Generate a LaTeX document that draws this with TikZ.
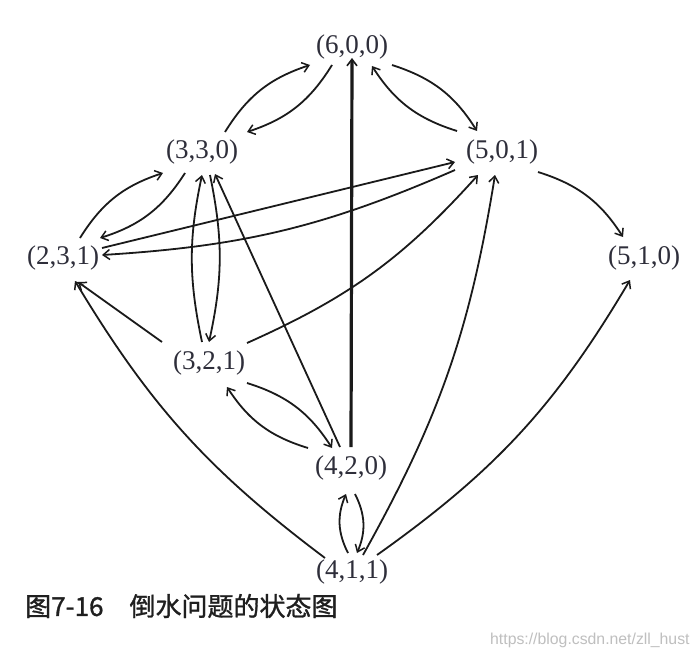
\documentclass[tikz,border=0pt]{standalone}
\usepackage{fontspec}
\setmainfont{Liberation Serif}
\newfontfamily\cjk{Noto Sans CJK SC}[FakeBold=1.2]
\newfontfamily\wmfont{Liberation Sans}
\usetikzlibrary{arrows.meta}
\definecolor{ink}{HTML}{1A1A1A}
\definecolor{txt}{HTML}{2E2E3A}
\begin{document}
\begin{tikzpicture}[x=1pt,y=1pt,
  state/.style={inner sep=0pt,font=\fontsize{27}{29}\selectfont,text=txt},
  edge/.style={draw=ink,line width=1.8pt,-{Straight Barb[length=6.5pt,width=10pt,line width=1.5pt]}},
  thick edge/.style={edge,line width=3.2pt,-{Straight Barb[length=6.5pt,width=10pt,line width=1.6pt]}}]
\useasboundingbox[fill=white] (0,0) rectangle (700,-658);
\node[state] (n600) at (352,-47) {(6,0,0)};
\node[state] (n330) at (202,-152) {(3,3,0)};
\node[state] (n501) at (502,-152) {(5,0,1)};
\node[state] (n231) at (63,-258) {(2,3,1)};
\node[state] (n510) at (644,-258) {(5,1,0)};
\node[state] (n321) at (209,-363) {(3,2,1)};
\node[state] (n420) at (351,-468) {(4,2,0)};
\node[state] (n411) at (352,-572) {(4,1,1)};
% top pair
\draw[edge] ([shift={(23,20)}]n330.center) to[bend left=20] ([shift={(-42,-18)}]n600.center);
\draw[edge] ([shift={(-20,-18)}]n600.center) to[bend left=20] ([shift={(45,20)}]n330.center);
\draw[edge] ([shift={(40,-18)}]n600.center) to[bend left=20] ([shift={(-25,21)}]n501.center);
\draw[edge] ([shift={(-45,21)}]n501.center) to[bend left=20] ([shift={(20,-19)}]n600.center);
\draw[thick edge] ([shift={(0,21)}]n420.center) -- ([shift={(0,-11)}]n600.center);
\draw[edge] ([shift={(36,-20)}]n501.center) to[bend left=20] ([shift={(-21,21)}]n510.center);
% left pair
\draw[edge] ([shift={(17,20)}]n231.center) to[bend left=20] ([shift={(-39,-21)}]n330.center);
\draw[edge] ([shift={(-17,-21)}]n330.center) to[bend left=20] ([shift={(37,20)}]n231.center);
% long ones
\draw[edge] ([shift={(39,10)}]n231.center) -- ([shift={(-47,-10)}]n501.center);
\draw[edge] ([shift={(-47,-18)}]n501.center) to[bend left=10] ([shift={(39,3)}]n231.center);
\draw[edge] ([shift={(38,20)}]n321.center) to[bend right=12] ([shift={(-24,-23)}]n501.center);
\draw[edge] ([shift={(11,17)}]n411.center) to[bend right=10] ([shift={(-7,-23)}]n501.center);
\draw[edge] ([shift={(25,17)}]n411.center) to[bend right=12] ([shift={(-14,-22)}]n510.center);
\draw[edge] ([shift={(-27,14)}]n411.center) to[bend left=11] ([shift={(12,-23)}]n231.center);
\draw[edge] ([shift={(-47,21)}]n321.center) -- ([shift={(15,-24)}]n231.center);
% 330 <-> 321
\draw[edge] ([shift={(-7,21)}]n321.center) to[bend left=12] ([shift={(0,-23)}]n330.center);
\draw[edge] ([shift={(8,-23)}]n330.center) to[bend left=12] ([shift={(0,21)}]n321.center);
\draw[edge] ([shift={(-11,21)}]n420.center) -- ([shift={(13,-22)}]n330.center);
% 321 <-> 420
\draw[edge] ([shift={(38,-20)}]n321.center) to[bend left=20] ([shift={(-19,20)}]n420.center);
\draw[edge] ([shift={(-43,20)}]n420.center) to[bend left=20] ([shift={(18,-24)}]n321.center);
% 420 <-> 411
\draw[edge] ([shift={(-4,19)}]n411.center) to[bend left=25] ([shift={(-5,-26)}]n420.center);
\draw[edge] ([shift={(4,-26)}]n420.center) to[bend left=25] ([shift={(5,19)}]n411.center);
% caption and watermark
\node[anchor=west,inner sep=0pt,text=black!88,font=\cjk\fontsize{26}{28}\selectfont] (cap) at (25,-606) {图7-16　倒水问题的状态图};
\node[anchor=west,inner sep=0pt,text=black!25,font=\wmfont\fontsize{15.8}{17}\selectfont] (wm) at (490,-640) {https://blog.csdn.net/zll\_hust};
\end{tikzpicture}
\end{document}
